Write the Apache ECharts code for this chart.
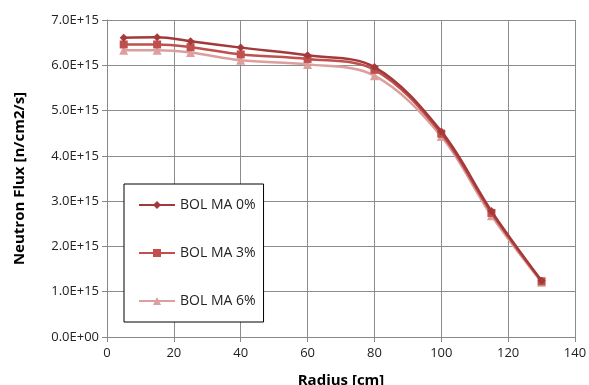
<!DOCTYPE html>
<html>
<head>
<meta charset="utf-8">
<script src="https://cdn.jsdelivr.net/npm/echarts@6/dist/echarts.min.js"></script>
<style>
  html, body { margin: 0; padding: 0; background: #fff; }
  #chart { width: 589px; height: 385px; }
</style>
</head>
<body>
<div id="chart"></div>
<script>
// radius positions [cm]
const radius = [5, 15, 25, 40, 60, 80, 100, 115, 130];

// neutron flux in units of 1E15 n/cm2/s
const bolMa0 = [6.61, 6.62, 6.53, 6.39, 6.22, 5.96, 4.54, 2.78, 1.24];
const bolMa3 = [6.46, 6.46, 6.40, 6.24, 6.14, 5.90, 4.49, 2.74, 1.23];
const bolMa6 = [6.33, 6.33, 6.28, 6.11, 6.02, 5.77, 4.43, 2.68, 1.21];

const seriesNames = ['BOL MA 0%', 'BOL MA 3%', 'BOL MA 6%'];

const toPairs = vals => radius.map((r, i) => [r, vals[i] * 1e15]);

const fmtExp = v => {
  if (v === 0) return '0.0E+00';
  const e = Math.floor(Math.log10(v));
  const m = v / Math.pow(10, e);
  return m.toFixed(1) + 'E+' + String(e).padStart(2, '0');
};

const font = '"Open Sans", "Liberation Sans", sans-serif';

const chart = echarts.init(document.getElementById('chart'));

const mkSeries = (name, vals, color, symbol, size, z) => ({
  name,
  type: 'line',
  smooth: 0.35,
  data: toPairs(vals),
  symbol,
  symbolSize: size,
  z,
  lineStyle: { color, width: 2.5 },
  itemStyle: { color },
  emphasis: { disabled: true }
});

chart.setOption({
  animation: false,
  textStyle: { fontFamily: font },
  grid: { left: 107, right: 14, top: 20, bottom: 48, containLabel: false, outerBoundsMode: 'none' },
  xAxis: {
    type: 'value',
    min: 0,
    max: 140,
    interval: 20,
    name: 'Radius [cm]',
    nameLocation: 'middle',
    nameGap: 36,
    nameTextStyle: { fontWeight: 'bold', fontSize: 15, color: '#000', fontFamily: font },
    axisLine: { show: true, lineStyle: { color: '#888' } },
    axisTick: { show: true, length: 5, lineStyle: { color: '#888' } },
    axisLabel: { color: '#222', fontSize: 13, margin: 10 },
    splitLine: { show: true, lineStyle: { color: '#8c8c8c', width: 1 } }
  },
  yAxis: {
    type: 'value',
    min: 0,
    max: 7e15,
    interval: 1e15,
    name: 'Neutron Flux [n/cm2/s]',
    nameLocation: 'middle',
    nameGap: 80,
    nameRotate: 90,
    nameTextStyle: { fontWeight: 'bold', fontSize: 15, color: '#000', fontFamily: font },
    axisLine: { show: true, lineStyle: { color: '#888' } },
    axisTick: { show: true, length: 5, lineStyle: { color: '#888' } },
    axisLabel: { color: '#222', fontSize: 13, margin: 8, formatter: fmtExp },
    splitLine: { show: true, lineStyle: { color: '#8c8c8c', width: 1 } }
  },
  legend: {
    orient: 'vertical',
    left: 124,
    top: 184,
    width: 143,
    height: 135,
    padding: [14, 8, 14, 14],
    itemGap: 34,
    itemWidth: 36,
    itemHeight: 10,
    backgroundColor: '#fff',
    borderColor: '#000',
    borderWidth: 1,
    textStyle: { fontSize: 14, color: '#222', fontFamily: font },
    data: seriesNames
  },
  series: [
    mkSeries(seriesNames[2], bolMa6, '#dc9f9d', 'triangle', 9, 2),
    mkSeries(seriesNames[1], bolMa3, '#c0504d', 'rect', 8, 3),
    mkSeries(seriesNames[0], bolMa0, '#a3393a', 'diamond', 8, 4)
  ]
});
</script>
</body>
</html>
